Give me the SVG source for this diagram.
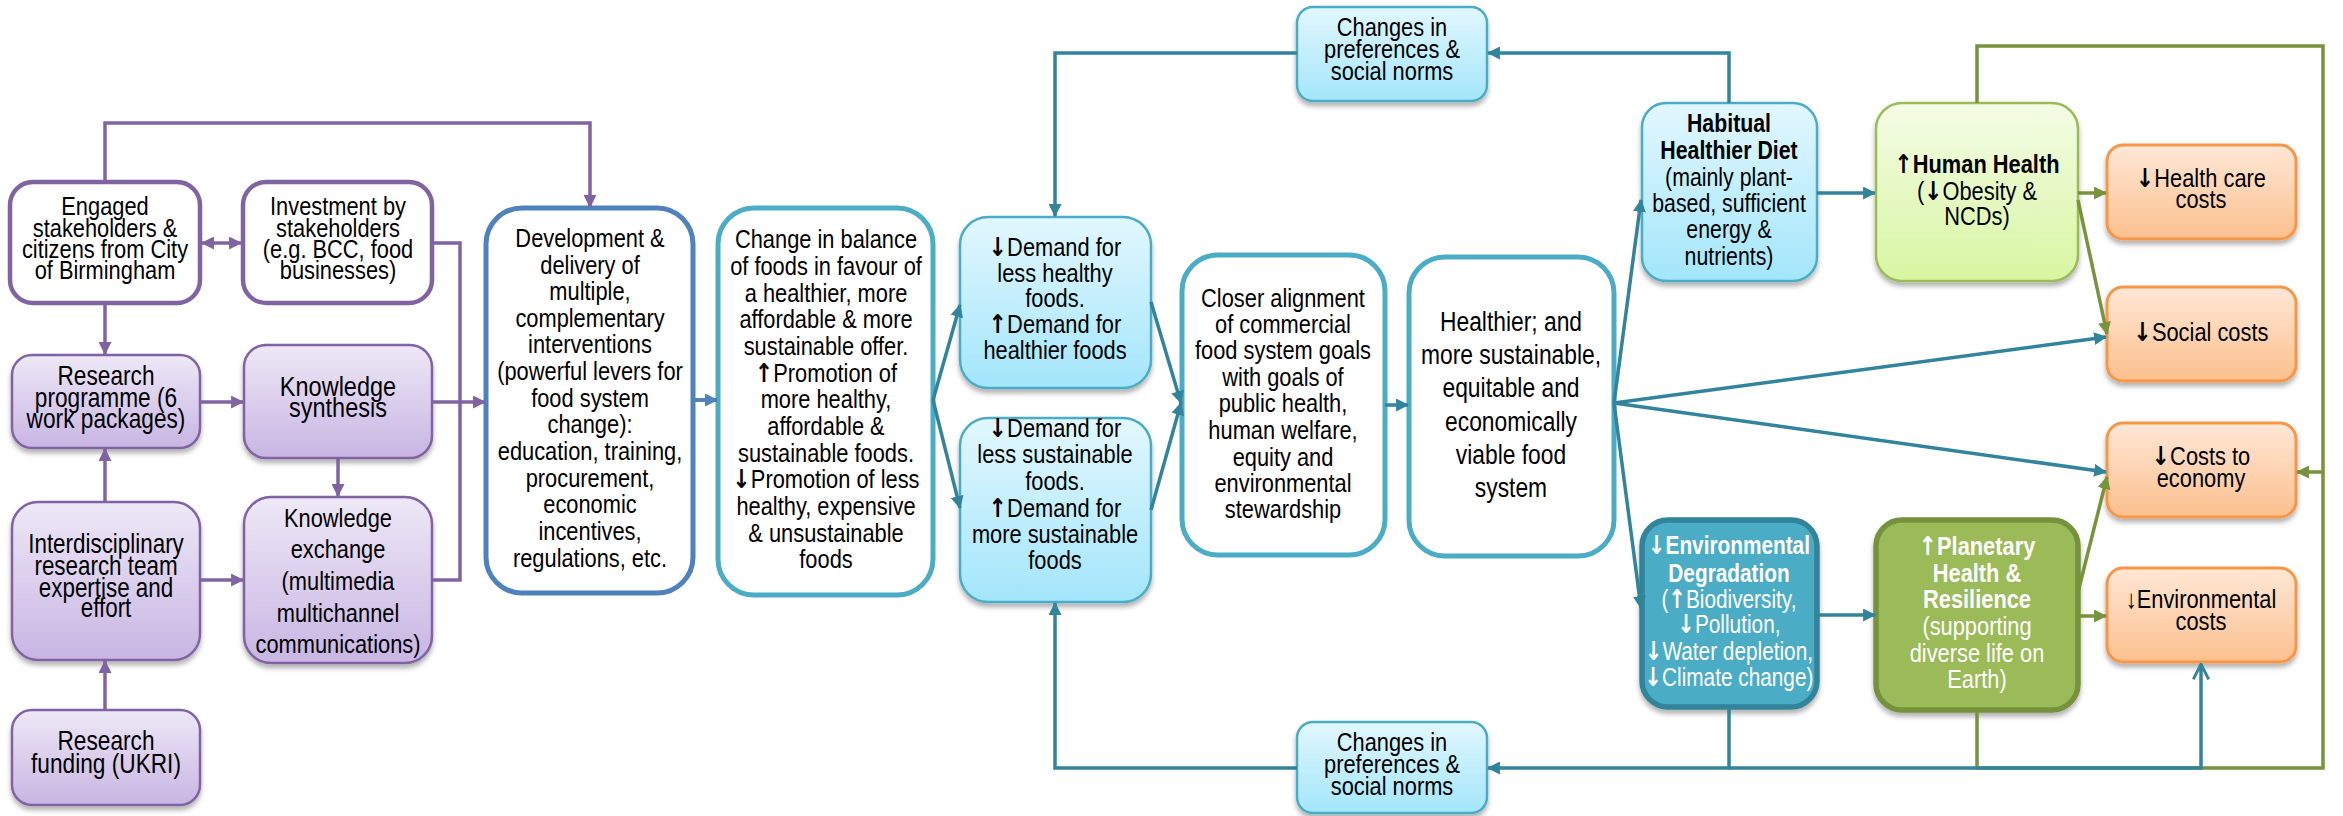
<svg xmlns="http://www.w3.org/2000/svg" width="2343" height="816" viewBox="0 0 2343 816">
<style>
  text { font-family: "Liberation Sans", Arial, sans-serif; font-size: 26px; fill: #000; text-anchor: middle; }
  .b { font-weight: bold; }
  .ar { font-family: "DejaVu Sans", sans-serif; font-weight: bold; }
  .w { fill: #fff; }
  .pw { fill: #fff; stroke: #8064A2; stroke-width: 4.5; }
  .pf { fill: url(#gP); stroke: #8064A2; stroke-width: 2.5; filter: url(#sh); }
  .bw { fill: #fff; stroke: #4F81BD; stroke-width: 5; }
  .tw { fill: #fff; stroke: #4BACC6; stroke-width: 5; }
  .lb { fill: url(#gB); stroke: #4BACC6; stroke-width: 2.5; filter: url(#sh); }
  .lg { fill: url(#gG); stroke: #9BBB59; stroke-width: 2.5; filter: url(#sh); }
  .or { fill: url(#gO); stroke: #F79646; stroke-width: 3; filter: url(#sh); }
  .ed { fill: #4BACC6; stroke: #31849B; stroke-width: 5.5; filter: url(#sh); }
  .ph { fill: #9BBB59; stroke: #76923C; stroke-width: 5.5; filter: url(#sh); }
  .cp { fill: none; stroke: #8064A2; stroke-width: 3.5; }
  .cb { fill: none; stroke: #4F81BD; stroke-width: 4; }
  .ct { fill: none; stroke: #31849B; stroke-width: 3.5; }
  .cg { fill: none; stroke: #77933C; stroke-width: 3.5; }
</style>
<defs>
  <linearGradient id="gP" x1="0" y1="0" x2="0" y2="1">
    <stop offset="0" stop-color="#EEE8F6"/><stop offset="1" stop-color="#C8B5E3"/>
  </linearGradient>
  <linearGradient id="gB" x1="0" y1="0" x2="0" y2="1">
    <stop offset="0" stop-color="#E2F7FE"/><stop offset="1" stop-color="#A3E6FB"/>
  </linearGradient>
  <linearGradient id="gG" x1="0" y1="0" x2="0" y2="1">
    <stop offset="0" stop-color="#F4FCE6"/><stop offset="1" stop-color="#D8F6A1"/>
  </linearGradient>
  <linearGradient id="gO" x1="0" y1="0" x2="0" y2="1">
    <stop offset="0" stop-color="#FFE7D6"/><stop offset="1" stop-color="#FBC08E"/>
  </linearGradient>
  <filter id="sh" x="-10%" y="-10%" width="120%" height="130%">
    <feDropShadow dx="0" dy="4" stdDeviation="2.5" flood-color="#000" flood-opacity="0.3"/>
  </filter>
  <marker id="aP" viewBox="0 0 12 12" refX="11" refY="6" markerWidth="13" markerHeight="13" markerUnits="userSpaceOnUse" orient="auto-start-reverse">
    <path d="M0,0 L12,6 L0,12 z" fill="#8064A2"/>
  </marker>
  <marker id="aB" viewBox="0 0 12 12" refX="11" refY="6" markerWidth="13" markerHeight="13" markerUnits="userSpaceOnUse" orient="auto">
    <path d="M0,0 L12,6 L0,12 z" fill="#4F81BD"/>
  </marker>
  <marker id="aT" viewBox="0 0 12 12" refX="11" refY="6" markerWidth="13" markerHeight="13" markerUnits="userSpaceOnUse" orient="auto">
    <path d="M0,0 L12,6 L0,12 z" fill="#31849B"/>
  </marker>
  <marker id="aG" viewBox="0 0 12 12" refX="11" refY="6" markerWidth="13" markerHeight="13" markerUnits="userSpaceOnUse" orient="auto">
    <path d="M0,0 L12,6 L0,12 z" fill="#77933C"/>
  </marker>
  <marker id="aO" viewBox="0 0 14 14" refX="13" refY="7" markerWidth="18" markerHeight="18" markerUnits="userSpaceOnUse" orient="auto">
    <path d="M1,1 L13,7 L1,13" fill="none" stroke="#31849B" stroke-width="2.2"/>
  </marker>
</defs>

<!-- stakeholder and research inputs; text is condensed horizontally around each box centre -->
<g id="engaged">
  <rect class="pw" x="10" y="182" width="190" height="121" rx="23"/>
  <text transform="matrix(0.84 0 0 1 105 0)"><tspan x="0" y="215">Engaged</tspan><tspan x="0" y="237">stakeholders &amp;</tspan><tspan x="0" y="258">citizens from City</tspan><tspan x="0" y="279">of Birmingham</tspan></text>
</g>
<g id="investment">
  <rect class="pw" x="243" y="182" width="189" height="121" rx="23"/>
  <text transform="matrix(0.84 0 0 1 338 0)"><tspan x="0" y="215">Investment by</tspan><tspan x="0" y="237">stakeholders</tspan><tspan x="0" y="258">(e.g. BCC, food</tspan><tspan x="0" y="279">businesses)</tspan></text>
</g>
<g id="research-programme">
  <rect class="pf" x="12" y="355" width="188" height="93" rx="20"/>
  <text transform="matrix(0.84 0 0 1 106 0)" style="font-size:27px"><tspan x="0" y="385">Research</tspan><tspan x="0" y="407">programme (6</tspan><tspan x="0" y="428">work packages)</tspan></text>
</g>
<g id="knowledge-synthesis">
  <rect class="pf" x="244" y="345" width="188" height="113" rx="22"/>
  <text transform="matrix(0.84 0 0 1 338 0)" style="font-size:28px"><tspan x="0" y="396">Knowledge</tspan><tspan x="0" y="417">synthesis</tspan></text>
</g>
<g id="interdisciplinary-team">
  <rect class="pf" x="12" y="502" width="188" height="158" rx="26"/>
  <text transform="matrix(0.83 0 0 1 106 0)" style="font-size:27px"><tspan x="0" y="553">Interdisciplinary</tspan><tspan x="0" y="575">research team</tspan><tspan x="0" y="597">expertise and</tspan><tspan x="0" y="617">effort</tspan></text>
</g>
<g id="knowledge-exchange">
  <rect class="pf" x="244" y="497" width="188" height="166" rx="27"/>
  <text transform="matrix(0.84 0 0 1 338 0)"><tspan x="0" y="527">Knowledge</tspan><tspan x="0" y="558">exchange</tspan><tspan x="0" y="590">(multimedia</tspan><tspan x="0" y="622">multichannel</tspan><tspan x="0" y="653">communications)</tspan></text>
</g>
<g id="research-funding">
  <rect class="pf" x="12" y="710" width="188" height="95" rx="20"/>
  <text transform="matrix(0.84 0 0 1 106 0)" style="font-size:27px"><tspan x="0" y="750">Research</tspan><tspan x="0" y="773">funding (UKRI)</tspan></text>
</g>

<!-- interventions and food offer -->
<g id="interventions">
  <rect class="bw" x="486" y="208" width="207" height="385" rx="36"/>
  <text transform="matrix(0.84 0 0 1 590 0)"><tspan x="0" y="247">Development &amp;</tspan><tspan x="0" y="274">delivery of</tspan><tspan x="0" y="300">multiple,</tspan><tspan x="0" y="327">complementary</tspan><tspan x="0" y="353">interventions</tspan><tspan x="0" y="380">(powerful levers for</tspan><tspan x="0" y="407">food system</tspan><tspan x="0" y="433">change):</tspan><tspan x="0" y="460">education, training,</tspan><tspan x="0" y="487">procurement,</tspan><tspan x="0" y="513">economic</tspan><tspan x="0" y="540">incentives,</tspan><tspan x="0" y="567">regulations, etc.</tspan></text>
</g>
<g id="food-balance">
  <rect class="tw" x="718" y="208" width="215" height="387" rx="36"/>
  <text transform="matrix(0.84 0 0 1 826 0)"><tspan x="0" y="248">Change in balance</tspan><tspan x="0" y="275">of foods in favour of</tspan><tspan x="0" y="302">a healthier, more</tspan><tspan x="0" y="328">affordable &amp; more</tspan><tspan x="0" y="355">sustainable offer.</tspan><tspan x="0" y="382"><tspan class="ar">↑</tspan>Promotion of</tspan><tspan x="0" y="408">more healthy,</tspan><tspan x="0" y="435">affordable &amp;</tspan><tspan x="0" y="462">sustainable foods.</tspan><tspan x="0" y="488"><tspan class="ar">↓</tspan>Promotion of less</tspan><tspan x="0" y="515">healthy, expensive</tspan><tspan x="0" y="542">&amp; unsustainable</tspan><tspan x="0" y="568">foods</tspan></text>
</g>
<g id="demand-healthy">
  <rect class="lb" x="960" y="217" width="191" height="171" rx="28"/>
  <text transform="matrix(0.84 0 0 1 1055 0)"><tspan x="0" y="256"><tspan class="ar">↓</tspan>Demand for</tspan><tspan x="0" y="282">less healthy</tspan><tspan x="0" y="307">foods.</tspan><tspan x="0" y="333"><tspan class="ar">↑</tspan>Demand for</tspan><tspan x="0" y="359">healthier foods</tspan></text>
</g>
<g id="demand-sustainable">
  <rect class="lb" x="960" y="418" width="191" height="184" rx="28"/>
  <text transform="matrix(0.84 0 0 1 1055 0)"><tspan x="0" y="437"><tspan class="ar">↓</tspan>Demand for</tspan><tspan x="0" y="463">less sustainable</tspan><tspan x="0" y="490">foods.</tspan><tspan x="0" y="517"><tspan class="ar">↑</tspan>Demand for</tspan><tspan x="0" y="543">more sustainable</tspan><tspan x="0" y="569">foods</tspan></text>
</g>
<g id="norms-top">
  <rect class="lb" x="1297" y="7" width="190" height="94" rx="16"/>
  <text transform="matrix(0.84 0 0 1 1392 0)"><tspan x="0" y="36">Changes in</tspan><tspan x="0" y="58">preferences &amp;</tspan><tspan x="0" y="80">social norms</tspan></text>
</g>
<g id="norms-bottom">
  <rect class="lb" x="1297" y="722" width="190" height="91" rx="16"/>
  <text transform="matrix(0.84 0 0 1 1392 0)"><tspan x="0" y="751">Changes in</tspan><tspan x="0" y="773">preferences &amp;</tspan><tspan x="0" y="795">social norms</tspan></text>
</g>
<g id="alignment">
  <rect class="tw" x="1182" y="255" width="203" height="300" rx="36"/>
  <text transform="matrix(0.84 0 0 1 1283 0)"><tspan x="0" y="307">Closer alignment</tspan><tspan x="0" y="333">of commercial</tspan><tspan x="0" y="359">food system goals</tspan><tspan x="0" y="386">with goals of</tspan><tspan x="0" y="412">public health,</tspan><tspan x="0" y="439">human welfare,</tspan><tspan x="0" y="466">equity and</tspan><tspan x="0" y="492">environmental</tspan><tspan x="0" y="518">stewardship</tspan></text>
</g>
<g id="food-system">
  <rect class="tw" x="1409" y="257" width="205" height="299" rx="36"/>
  <text transform="matrix(0.83 0 0 1 1511 0)" style="font-size:27.5px"><tspan x="0" y="331">Healthier; and</tspan><tspan x="0" y="364">more sustainable,</tspan><tspan x="0" y="397">equitable and</tspan><tspan x="0" y="431">economically</tspan><tspan x="0" y="464">viable food</tspan><tspan x="0" y="497">system</tspan></text>
</g>

<!-- outcomes -->
<g id="healthier-diet">
  <rect class="lb" x="1642" y="103" width="175" height="178" rx="24"/>
  <text transform="matrix(0.82 0 0 1 1729 0)"><tspan class="b" x="0" y="132">Habitual</tspan><tspan class="b" x="0" y="159">Healthier Diet</tspan><tspan x="0" y="186">(mainly plant-</tspan><tspan x="0" y="212">based, sufficient</tspan><tspan x="0" y="238">energy &amp;</tspan><tspan x="0" y="265">nutrients)</tspan></text>
</g>
<g id="human-health">
  <rect class="lg" x="1876" y="103" width="202" height="178" rx="26"/>
  <text transform="matrix(0.84 0 0 1 1977 0)"><tspan class="b" x="0" y="173"><tspan class="ar">↑</tspan>Human Health</tspan><tspan x="0" y="200">(<tspan class="ar">↓</tspan>Obesity &amp;</tspan><tspan x="0" y="225">NCDs)</tspan></text>
</g>
<g id="environmental-degradation">
  <rect class="ed" x="1642" y="520" width="175" height="187" rx="26"/>
  <text class="w" transform="matrix(0.8 0 0 1 1729 0)"><tspan class="b" x="0" y="554"><tspan class="ar">↓</tspan>Environmental</tspan><tspan class="b" x="0" y="582">Degradation</tspan><tspan x="0" y="608">(<tspan class="ar">↑</tspan>Biodiversity,</tspan><tspan x="0" y="633"><tspan class="ar">↓</tspan>Pollution,</tspan><tspan x="0" y="660"><tspan class="ar">↓</tspan>Water depletion,</tspan><tspan x="0" y="686"><tspan class="ar">↓</tspan>Climate change)</tspan></text>
</g>
<g id="planetary-health">
  <rect class="ph" x="1876" y="520" width="202" height="190" rx="26"/>
  <text class="w" transform="matrix(0.84 0 0 1 1977 0)"><tspan class="b" x="0" y="555"><tspan class="ar">↑</tspan>Planetary</tspan><tspan class="b" x="0" y="582">Health &amp;</tspan><tspan class="b" x="0" y="608">Resilience</tspan><tspan x="0" y="635">(supporting</tspan><tspan x="0" y="662">diverse life on</tspan><tspan x="0" y="688">Earth)</tspan></text>
</g>
<g id="health-care-costs">
  <rect class="or" x="2107" y="145" width="189" height="94" rx="16"/>
  <text transform="matrix(0.84 0 0 1 2201 0)"><tspan x="0" y="187"><tspan class="ar">↓</tspan>Health care</tspan><tspan x="0" y="208">costs</tspan></text>
</g>
<g id="social-costs">
  <rect class="or" x="2107" y="287" width="189" height="94" rx="16"/>
  <text transform="matrix(0.84 0 0 1 2201 0)"><tspan x="0" y="341"><tspan class="ar">↓</tspan>Social costs</tspan></text>
</g>
<g id="economy-costs">
  <rect class="or" x="2107" y="423" width="189" height="94" rx="16"/>
  <text transform="matrix(0.84 0 0 1 2201 0)"><tspan x="0" y="465"><tspan class="ar">↓</tspan>Costs to</tspan><tspan x="0" y="487">economy</tspan></text>
</g>
<g id="environmental-costs">
  <rect class="or" x="2107" y="568" width="189" height="94" rx="16"/>
  <text transform="matrix(0.84 0 0 1 2201 0)"><tspan x="0" y="608">↓Environmental</tspan><tspan x="0" y="630">costs</tspan></text>
</g>

<g id="connectors">
  <!-- purple: research inputs -->
  <path class="cp" d="M105,182 V123 H590 V207" marker-end="url(#aP)"/>
  <path class="cp" d="M202,243 H241" marker-start="url(#aP)" marker-end="url(#aP)"/>
  <path class="cp" d="M105,303 V354" marker-end="url(#aP)"/>
  <path class="cp" d="M105,502 V449" marker-end="url(#aP)"/>
  <path class="cp" d="M105,710 V661" marker-end="url(#aP)"/>
  <path class="cp" d="M200,402 H243" marker-end="url(#aP)"/>
  <path class="cp" d="M200,580 H243" marker-end="url(#aP)"/>
  <path class="cp" d="M338,458 V496" marker-end="url(#aP)"/>
  <path class="cp" d="M432,243 H460 V580 H432"/>
  <path class="cp" d="M432,402 H485" marker-end="url(#aP)"/>
  <!-- blue -->
  <path class="cb" d="M693,400 H717" marker-end="url(#aB)"/>
  <!-- green: health and planetary outcomes -->
  <path class="cg" d="M1977,103 V46 H2323 V768 H1977 V710"/>
  <path class="cg" d="M2323,472 H2297" marker-end="url(#aG)"/>
  <path class="cg" d="M2078,193 H2106" marker-end="url(#aG)"/>
  <path class="cg" d="M2078,200 L2107,334" marker-end="url(#aG)"/>
  <path class="cg" d="M2078,592 L2107,477" marker-end="url(#aG)"/>
  <path class="cg" d="M2078,616 H2106" marker-end="url(#aG)"/>
  <!-- teal: demand, food system and feedback loops -->
  <path class="ct" d="M933,400 L960,305" marker-end="url(#aT)"/>
  <path class="ct" d="M933,400 L960,508" marker-end="url(#aT)"/>
  <path class="ct" d="M1151,302 L1181,403" marker-end="url(#aT)"/>
  <path class="ct" d="M1151,510 L1181,403" marker-end="url(#aT)"/>
  <path class="ct" d="M1385,405 H1408" marker-end="url(#aT)"/>
  <path class="ct" d="M1729,103 V53 H1488" marker-end="url(#aT)"/>
  <path class="ct" d="M1297,53 H1055 V216" marker-end="url(#aT)"/>
  <path class="ct" d="M1297,768 H1055 V603" marker-end="url(#aT)"/>
  <path class="ct" d="M1729,707 V768 H1488" marker-end="url(#aT)"/>
  <path class="ct" d="M1729,768 H2201 V664" marker-end="url(#aO)"/>
  <path class="ct" d="M1614,403 L1641,200" marker-end="url(#aT)"/>
  <path class="ct" d="M1614,403 L2106,337" marker-end="url(#aT)"/>
  <path class="ct" d="M1614,403 L2106,472" marker-end="url(#aT)"/>
  <path class="ct" d="M1614,403 L1641,608" marker-end="url(#aT)"/>
  <path class="ct" d="M1817,193 H1875" marker-end="url(#aT)"/>
  <path class="ct" d="M1817,615 H1875" marker-end="url(#aT)"/>
</g>
</svg>
